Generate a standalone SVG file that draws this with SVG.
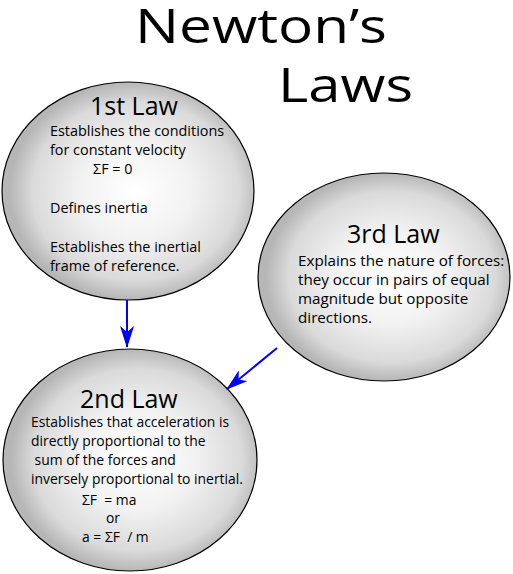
<svg xmlns="http://www.w3.org/2000/svg" width="513" height="574" viewBox="0 0 513 574">
  <defs>
    <radialGradient id="g" cx="0.53" cy="0.5" r="0.5">
      <stop offset="0" stop-color="#ffffff"/>
      <stop offset="0.45" stop-color="#f2f2f2"/>
      <stop offset="0.82" stop-color="#dadada"/>
      <stop offset="1" stop-color="#b6b6b6"/>
    </radialGradient>
    <marker id="ah" markerWidth="22" markerHeight="14" refX="21" refY="7" orient="auto" markerUnits="userSpaceOnUse">
      <path d="M0,0 L22,7 L0,14 L6,7 Z" fill="#0000ff"/>
    </marker>
  </defs>
  <style>
    .node ellipse { fill: url(#g); stroke: #000; stroke-width: 1.2; }
    text { font-family: "Open Sans", "Noto Sans", sans-serif; fill: #000; }
    .title { font-size: 47px; font-weight: 500; }
    .head { font-size: 25px; }
    #law1 .body { font-size: 14.4px; }
    #law2 .body { font-size: 13.9px; }
    #law3 .body { font-size: 15.2px; }
    .conn line { stroke: #0000ff; stroke-width: 2; }
  </style>
  <rect width="513" height="574" fill="#fff"/>
  <g id="title">
    <text class="title" x="135" y="43" textLength="252" lengthAdjust="spacingAndGlyphs">Newton’s</text>
    <text class="title" x="278" y="102" textLength="135" lengthAdjust="spacingAndGlyphs">Laws</text>
  </g>
  <g id="law1" class="node">
    <ellipse cx="128" cy="191" rx="126" ry="109"/>
    <text class="head" x="90" y="115">1st Law</text>
    <text class="body" x="50" y="136">Establishes the conditions</text>
    <text class="body" x="50" y="155">for constant velocity</text>
    <text class="body" x="93" y="174">ΣF = 0</text>
    <text class="body" x="50" y="213">Defines inertia</text>
    <text class="body" x="50" y="252">Establishes the inertial</text>
    <text class="body" x="50" y="271">frame of reference.</text>
  </g>
  <g id="law3" class="node">
    <ellipse cx="384" cy="277" rx="126" ry="104"/>
    <text class="head" x="347" y="243">3rd Law</text>
    <text class="body" x="298" y="266">Explains the nature of forces:</text>
    <text class="body" x="298" y="285">they occur in pairs of equal</text>
    <text class="body" x="298" y="304">magnitude but opposite</text>
    <text class="body" x="298" y="323">directions.</text>
  </g>
  <g id="law2" class="node">
    <ellipse cx="130" cy="460" rx="127" ry="111"/>
    <text class="head" x="80" y="408">2nd Law</text>
    <text class="body" x="31" y="427">Establishes that acceleration is</text>
    <text class="body" x="31" y="446">directly proportional to the</text>
    <text class="body" x="31" y="465" xml:space="preserve"> sum of the forces and</text>
    <text class="body" x="31" y="484">inversely proportional to inertial.</text>
    <text class="body" x="82" y="505" xml:space="preserve">ΣF  = ma</text>
    <text class="body" x="106" y="523">or</text>
    <text class="body" x="82" y="542" xml:space="preserve">a = ΣF  / m</text>
  </g>
  <g id="connectors" class="conn">
    <line x1="127" y1="300" x2="127" y2="347" marker-end="url(#ah)"/>
    <line x1="277" y1="348" x2="227" y2="389" marker-end="url(#ah)"/>
  </g>
</svg>
